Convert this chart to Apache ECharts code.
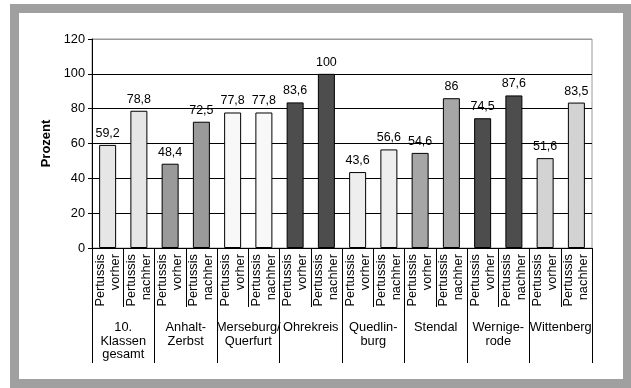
<!DOCTYPE html>
<html>
<head>
<meta charset="utf-8">
<script src="https://cdn.jsdelivr.net/npm/echarts@6/dist/echarts.min.js"></script>
<style>
  html, body { margin: 0; padding: 0; background: #fff; }
  #chart { width: 631px; height: 388px; }
</style>
</head>
<body>
<div id="chart"></div>
<script>
// Districts (second label row)
const groups = ['10.\nKlassen\ngesamt', 'Anhalt-\nZerbst', 'Merseburg/\nQuerfurt', 'Ohrekreis',
                'Quedlin-\nburg', 'Stendal', 'Wernige-\nrode', 'Wittenberg'];
// Bar labels within each district (first label row)
const phases = ['Pertussis\nvorher', 'Pertussis\nnachher'];
// Pertussis immunisation rate in percent, before and after
const vorher  = [59.2, 48.4, 77.8, 83.6, 43.6, 54.6, 74.5, 51.6];
const nachher = [78.8, 72.5, 77.8, 100, 56.6, 86, 87.6, 83.5];
// Fill per district
const fills = ['#e6e6e6', '#9a9a9a', '#f8f8f8', '#4d4d4d', '#eeeeee', '#a6a6a6', '#4d4d4d', '#d3d3d3'];
// Y axis
const yMin = 0, yMax = 120, yStep = 20;

const FONT = '"Liberation Sans", Arial, sans-serif';

const barCats = [];
const barData = [];
groups.forEach((g, i) => {
  [vorher[i], nachher[i]].forEach((v, k) => {
    barCats.push(phases[k]);
    barData.push({ value: v, itemStyle: { color: fills[i] } });
  });
});

const chart = echarts.init(document.getElementById('chart'), null, { renderer: 'canvas' });
chart.setOption({
  animation: false,
  backgroundColor: '#fff',
  textStyle: { fontFamily: FONT },
  graphic: [{
    type: 'rect',
    shape: { x: 14.5, y: 8.5, width: 613, height: 375 },
    style: { fill: null, stroke: '#a0a0a0', lineWidth: 9 },
    silent: true
  }],
  grid: {
    left: 92, top: 39, right: 39, bottom: 140,
    show: true, borderColor: '#9a9a9a', borderWidth: 1, backgroundColor: 'transparent'
  },
  xAxis: [{
    type: 'category',
    data: barCats,
    position: 'bottom',
    axisLine: { lineStyle: { color: '#000', width: 1 } },
    axisTick: { show: true, length: 59, interval: 0, lineStyle: { color: '#000' } },
    axisLabel: {
      interval: 0, rotate: 90, margin: 6,
      fontSize: 12.8, lineHeight: 15, color: '#000', fontFamily: FONT, align: 'right'
    }
  }, {
    type: 'category',
    data: groups,
    position: 'bottom',
    axisLine: { show: false },
    axisTick: { show: true, length: 115, interval: 0, lineStyle: { color: '#000' } },
    axisLabel: {
      interval: 0, margin: 73, verticalAlign: 'top',
      fontSize: 12.8, lineHeight: 13.5, color: '#000', fontFamily: FONT
    }
  }],
  yAxis: {
    type: 'value',
    min: yMin, max: yMax, interval: yStep,
    name: 'Prozent',
    nameLocation: 'middle',
    nameGap: 38,
    nameTextStyle: { fontSize: 13, fontWeight: 'bold', color: '#000', fontFamily: FONT },
    axisLine: { show: true, lineStyle: { color: '#000' } },
    axisTick: { show: true, length: 4, lineStyle: { color: '#000' } },
    axisLabel: { fontSize: 12.8, color: '#000', margin: 7, fontFamily: FONT },
    splitLine: { show: true, lineStyle: { color: ['#000', '#000', '#000', '#000', '#000', '#000', '#9a9a9a'], width: 1 } }
  },
  series: [{
    type: 'bar',
    xAxisIndex: 0,
    data: barData,
    barWidth: 17,
    itemStyle: { borderColor: '#000', borderWidth: 1 },
    label: {
      show: true, position: 'top', distance: 5,
      fontSize: 12.5, color: '#000', fontFamily: FONT,
      formatter: p => String(p.value).replace('.', ',')
    }
  }]
});
</script>
</body>
</html>
